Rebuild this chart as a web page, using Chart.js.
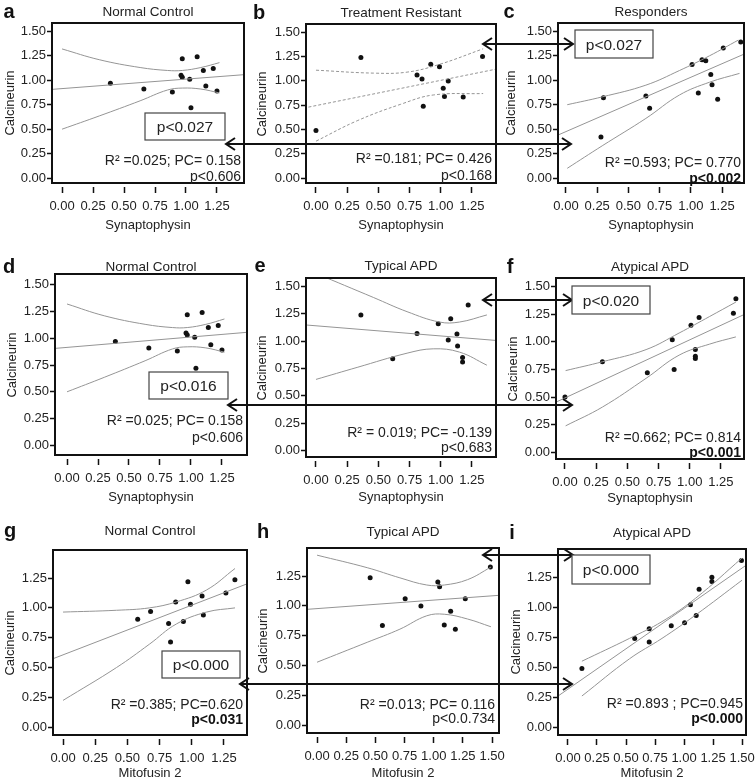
<!DOCTYPE html>
<html>
<head>
<meta charset="utf-8">
<script src="https://cdn.jsdelivr.net/npm/chart.js@4.4.0/dist/chart.umd.min.js"></script>
<style>
body { margin: 0; background: #fff; }
#fig { position: relative; width: 756px; height: 779px; overflow: hidden; font-family: "Liberation Sans", Arial, sans-serif; color: #222; }
#fig canvas { position: absolute; }
.t { position: absolute; white-space: nowrap; line-height: 1; }
.c { transform: translate(-50%, -50%); }
.r { transform: translate(-100%, -50%); }
.v { width: 100px; height: 16px; line-height: 16px; text-align: center; transform: rotate(-90deg); }
svg { position: absolute; left: 0; top: 0; }
</style>
</head>
<body>
<div id="fig"></div>
<script>
// ticks
const ticks125 = [0, 0.25, 0.5, 0.75, 1, 1.25];
const ticks150 = [0, 0.25, 0.5, 0.75, 1, 1.25, 1.5];

// a / d : Normal Control vs Synaptophysin
const ncSynPts = [[0.39,0.97],[0.66,0.91],[0.89,0.88],[0.96,1.05],[0.97,1.22],[0.97,1.03],[1.03,1.01],[1.04,0.72],[1.09,1.24],[1.14,1.10],[1.16,0.94],[1.22,1.12],[1.25,0.89]];
const ncSynFit = [[-0.1,0.905],[1.5,1.06]];
const ncSynUp = [[0,1.32],[0.3,1.21],[0.63,1.13],[0.85,1.10],[0.97,1.10],[1.12,1.13],[1.27,1.18]];
const ncSynLo = [[0,0.50],[0.3,0.635],[0.63,0.79],[0.85,0.90],[0.97,0.92],[1.12,0.91],[1.27,0.87]];

// b : Treatment Resistant
const trSynPts = [[0,0.49],[0.36,1.24],[0.81,1.06],[0.85,1.02],[0.86,0.74],[0.92,1.17],[0.99,1.145],[1.06,1.0],[1.02,0.925],[1.03,0.84],[1.18,0.835],[1.335,1.25]];
const trSynFit = [[-0.1,0.72],[1.46,1.125]];
const trSynUp = [[0,1.11],[0.46,1.08],[0.73,1.09],[0.99,1.17],[1.34,1.33]];
const trSynLo = [[0,0.38],[0.33,0.59],[0.68,0.76],[0.94,0.855],[1.34,0.87]];

// c : Responders
const rsSynPts = [[0.28,0.42],[0.30,0.82],[0.64,0.84],[0.67,0.715],[1.01,1.16],[1.06,0.87],[1.09,1.21],[1.12,1.20],[1.16,1.06],[1.17,0.955],[1.215,0.805],[1.26,1.33],[1.40,1.39]];
const rsSynFit = [[-0.1,0.42],[1.45,1.28]];
const rsSynUp = [[0.01,0.75],[0.29,0.83],[0.64,0.95],[0.91,1.10],[1.15,1.25],[1.38,1.41]];
const rsSynLo = [[0.01,0.10],[0.29,0.33],[0.64,0.61],[0.91,0.85],[1.15,0.98],[1.39,1.07]];

// e : Typical APD vs Synaptophysin
const tySynPts = [[0.36,1.24],[0.615,0.84],[0.81,1.07],[0.98,1.16],[1.08,1.205],[1.06,1.01],[1.13,1.065],[1.135,0.955],[1.175,0.85],[1.175,0.81],[1.22,1.33]];
const tySynFit = [[-0.1,1.15],[1.46,1.005]];
const tySynUp = [[0,1.62],[0.46,1.40],[0.73,1.27],[0.99,1.175],[1.15,1.175],[1.37,1.24]];
const tySynLo = [[0,0.65],[0.33,0.76],[0.73,0.89],[0.94,0.93],[1.15,0.90],[1.37,0.78]];

// f : Atypical APD vs Synaptophysin
const atSynPts = [[0,0.50],[0.30,0.82],[0.66,0.72],[0.86,1.02],[0.875,0.75],[1.01,1.15],[1.045,0.93],[1.045,0.87],[1.045,0.85],[1.075,1.22],[1.35,1.26],[1.37,1.39]];
const atSynFit = [[-0.1,0.44],[1.45,1.255]];
const atSynUp = [[0.005,0.74],[0.30,0.82],[0.65,0.93],[0.915,1.08],[1.16,1.23],[1.37,1.36]];
const atSynLo = [[0.005,0.24],[0.30,0.41],[0.65,0.67],[0.915,0.88],[1.16,0.98],[1.37,1.045]];

// g : Normal Control vs Mitofusin 2
const ncMitPts = [[0.58,0.905],[0.68,0.97],[0.82,0.87],[0.835,0.715],[0.875,1.05],[0.935,0.885],[0.97,1.22],[0.99,1.03],[1.08,1.10],[1.09,0.94],[1.265,1.125],[1.335,1.235]];
const ncMitFit = [[-0.1,0.565],[1.45,1.21]];
const ncMitUp = [[0,0.965],[0.415,0.98],[0.67,1.0],[0.88,1.05],[1.115,1.15],[1.336,1.33]];
const ncMitLo = [[0,0.225],[0.415,0.50],[0.67,0.695],[0.88,0.865],[1.115,0.965],[1.336,1.0]];

// h : Typical APD vs Mitofusin 2
const tyMitPts = [[0.455,1.235],[0.56,0.835],[0.755,1.06],[0.89,1.0],[1.035,1.20],[1.05,1.16],[1.09,0.84],[1.145,0.955],[1.185,0.805],[1.27,1.06],[1.485,1.325]];
const tyMitFit = [[-0.1,0.97],[1.58,1.09]];
const tyMitUp = [[0,1.425],[0.43,1.32],[0.71,1.235],[0.94,1.175],[1.09,1.175],[1.29,1.22],[1.49,1.325]];
const tyMitLo = [[0,0.528],[0.43,0.695],[0.71,0.805],[0.94,0.917],[1.09,0.93],[1.29,0.89],[1.49,0.825]];

// i : Atypical APD vs Mitofusin 2
const atMitPts = [[0.12,0.49],[0.575,0.74],[0.70,0.82],[0.70,0.71],[0.89,0.845],[1.005,0.87],[1.055,1.02],[1.105,0.93],[1.13,1.15],[1.24,1.215],[1.24,1.25],[1.495,1.39]];
const atMitFit = [[-0.1,0.25],[1.58,1.38]];
const atMitUp = [[0.12,0.55],[0.53,0.74],[0.81,0.88],[1.10,1.075],[1.50,1.41]];
const atMitLo = [[0.12,0.26],[0.53,0.57],[0.81,0.74],[1.10,0.935],[1.50,1.225]];

// layout of the 9 panels (box = plot frame in page pixels)
const panels = [
  {k:'a', box:[52,23,244,183],  xr:[-0.081,1.468], yr:[-0.05,1.585], xt:ticks125, yt:ticks150, pts:ncSynPts, fit:ncSynFit, up:ncSynUp, lo:ncSynLo, title:'Normal Control', xl:'Synaptophysin', s1:'R² =0.025; PC= 0.158', s2:'p<0.606', bold:false, st:[241,160,176], kp:[9,11], yl:10, xly:224},
  {k:'b', box:[306,24,496,183], xr:[-0.08,1.443],  yr:[-0.05,1.585], xt:ticks125, yt:ticks150, pts:trSynPts, fit:trSynFit, up:trSynUp, lo:trSynLo, title:'Treatment Resistant', xl:'Synaptophysin', s1:'R² =0.181; PC= 0.426', s2:'p<0.168', bold:false, st:[492,158,175], kp:[259,12], yl:262, xly:224, dash:true},
  {k:'c', box:[558,23,744,183], xr:[-0.064,1.426], yr:[-0.05,1.585], xt:ticks125, yt:ticks150, pts:rsSynPts, fit:rsSynFit, up:rsSynUp, lo:rsSynLo, title:'Responders', xl:'Synaptophysin', s1:'R² =0.593; PC= 0.770', s2:'p<0.002', bold:true, st:[741,162,178], kp:[509,11], yl:511, xly:224},
  {k:'d', box:[55,274,247,455], xr:[-0.097,1.452], yr:[-0.09,1.60], xt:ticks125, yt:ticks150, pts:ncSynPts, fit:ncSynFit, up:ncSynUp, lo:ncSynLo, title:'Normal Control', xl:'Synaptophysin', s1:'R² =0.025; PC= 0.158', s2:'p<0.606', bold:false, st:[243,420,437], kp:[9,266], yl:12, xly:496},
  {k:'e', box:[306,278,496,457], xr:[-0.08,1.443], yr:[-0.06,1.578], xt:ticks125, yt:ticks150, pts:tySynPts, fit:tySynFit, up:tySynUp, lo:tySynLo, title:'Typical APD', xl:'Synaptophysin', s1:'R² = 0.019; PC= -0.139', s2:'p<0.683', bold:false, st:[492,432,447], kp:[260,265], yl:262, xly:496},
  {k:'f', box:[556,278,744,459], xr:[-0.072,1.435], yr:[-0.06,1.578], xt:ticks125, yt:ticks150, pts:atSynPts, fit:atSynFit, up:atSynUp, lo:atSynLo, title:'Atypical APD', xl:'Synaptophysin', s1:'R² =0.662; PC= 0.814', s2:'p<0.001', bold:true, st:[741,437,452], kp:[510,266], yl:513, xly:497},
  {k:'g', box:[53,550,247,735], xr:[-0.078,1.429], yr:[-0.065,1.485], xt:ticks125, yt:ticks125, pts:ncMitPts, fit:ncMitFit, up:ncMitUp, lo:ncMitLo, title:'Normal Control', xl:'Mitofusin 2', s1:'R² =0.385; PC=0.620', s2:'p<0.031', bold:true, st:[243,704,719], kp:[10,530], yl:10, xly:772},
  {k:'h', box:[307,548,499,733], xr:[-0.086,1.559], yr:[-0.065,1.485], xt:ticks150, yt:ticks125, pts:tyMitPts, fit:tyMitFit, up:tyMitUp, lo:tyMitLo, title:'Typical APD', xl:'Mitofusin 2', s1:'R² =0.013; PC= 0.116', s2:'p<0.0.734', bold:false, st:[495,704,718], kp:[263,531], yl:263, xly:772},
  {k:'i', box:[558,549,746,735], xr:[-0.086,1.534], yr:[-0.065,1.485], xt:ticks150, yt:ticks125, pts:atMitPts, fit:atMitFit, up:atMitUp, lo:atMitLo, title:'Atypical APD', xl:'Mitofusin 2', s1:'R² =0.893 ; PC=0.945', s2:'p<0.000', bold:true, st:[743,703,718], kp:[512,532], yl:516, xly:772}
];

// p-value boxes and arrows between panels
const pBoxes = [
  {x:145, y:113, w:80, h:27, txt:'p<0.027'},
  {x:575, y:30,  w:78, h:28, txt:'p<0.027'},
  {x:149, y:372, w:79, h:27, txt:'p<0.016'},
  {x:572, y:286, w:78, h:28, txt:'p<0.020'},
  {x:162, y:651, w:78, h:27, txt:'p<0.000'},
  {x:572, y:555, w:78, h:29, txt:'p<0.000'}
];
const arrows = [
  [226, 571, 144], [483, 573, 44],
  [228, 572, 405], [483, 572, 300],
  [240, 572, 684], [483, 573, 555]
];

Chart.defaults.font.family = '"Liberation Sans", Arial, sans-serif';
Chart.defaults.color = '#222';

const fig = document.getElementById('fig');

const framePlugin = {
  id: 'frame',
  afterDraw(chart) {
    const {ctx, chartArea: a} = chart;
    ctx.save();
    ctx.strokeStyle = '#111';
    ctx.lineWidth = 2;
    ctx.strokeRect(a.left, a.top, a.right - a.left, a.bottom - a.top);
    ctx.restore();
  }
};

function addText(txt, x, y, cls, css) {
  const d = document.createElement('div');
  d.className = 't ' + cls;
  d.textContent = txt;
  d.style.cssText = 'left:' + x + 'px;top:' + y + 'px;' + (css || '');
  fig.appendChild(d);
}

function toXY(arr) { return arr.map(p => ({x: p[0], y: p[1]})); }

function drawPanel(p) {
  const w = p.box[2] - p.box[0], h = p.box[3] - p.box[1];
  const cv = document.createElement('canvas');
  cv.width = w + 52 + 16;
  cv.height = h + 10 + 36;
  cv.style.left = (p.box[0] - 52) + 'px';
  cv.style.top = (p.box[1] - 10) + 'px';
  fig.appendChild(cv);

  const curve = (arr, tension) => ({
    data: toXY(arr), showLine: true, pointRadius: 0, borderColor: '#959595',
    borderWidth: 1, borderDash: p.dash ? [3, 2] : [], tension: tension, clip: 0
  });

  new Chart(cv, {
    type: 'scatter',
    data: {
      datasets: [
        curve(p.fit, 0),
        curve(p.up, 0.4),
        curve(p.lo, 0.4),
        {data: toXY(p.pts), pointRadius: 2.5, backgroundColor: '#111', borderWidth: 0}
      ]
    },
    options: {
      responsive: false,
      animation: false,
      events: [],
      layout: {padding: {left: 0, top: 10, right: 16, bottom: 0}},
      plugins: {legend: {display: false}, tooltip: {enabled: false}},
      scales: {
        x: {
          type: 'linear', min: p.xr[0], max: p.xr[1],
          afterFit: s => { s.height = 36; },
          afterBuildTicks: s => { s.ticks = p.xt.map(v => ({value: v})); },
          ticks: {callback: v => Number(v).toFixed(2), font: {size: 13}, color: '#222', padding: 6, maxRotation: 0, autoSkip: false},
          grid: {drawOnChartArea: false, drawTicks: true, tickLength: 10, tickColor: '#111', tickWidth: 1.5, tickBorderDash: [0, 4, 6, 0]},
          border: {display: false}
        },
        y: {
          type: 'linear', min: p.yr[0], max: p.yr[1],
          afterFit: s => { s.width = 52; },
          afterBuildTicks: s => { s.ticks = p.yt.map(v => ({value: v})); },
          ticks: {callback: v => Number(v).toFixed(2), font: {size: 13}, color: '#222', padding: 1, autoSkip: false},
          grid: {drawOnChartArea: false, drawTicks: true, tickLength: 5, tickColor: '#111', tickWidth: 1.5},
          border: {display: false}
        }
      }
    },
    plugins: [framePlugin]
  });

  const cx = (p.box[0] + p.box[2]) / 2, cy = Math.round((p.box[1] + p.box[3]) / 2);
  addText(p.k, p.kp[0], p.kp[1], 'c', 'font-size:20px;font-weight:bold;color:#111;');
  addText(p.title, cx, p.kp[1] + 1, 'c', 'font-size:13.5px;');
  addText(p.xl, cx, p.xly, 'c', 'font-size:13px;');
  // rotated y title: 100x16 box centred on (yl, cy), integer offsets keep it crisp
  addText('Calcineurin', p.yl - 50, cy - 8, 'v', 'font-size:13px;');
  addText(p.s1, p.st[0], p.st[1], 'r', 'font-size:14px;');
  addText(p.s2, p.st[0], p.st[2], 'r', 'font-size:14px;' + (p.bold ? 'font-weight:bold;color:#111;' : ''));
}

panels.forEach(drawPanel);

// overlay: p boxes and double arrows
const NS = 'http://www.w3.org/2000/svg';
const svg = document.createElementNS(NS, 'svg');
svg.setAttribute('width', 756);
svg.setAttribute('height', 779);
fig.appendChild(svg);

function el(tag, attrs) {
  const e = document.createElementNS(NS, tag);
  for (const a in attrs) e.setAttribute(a, attrs[a]);
  svg.appendChild(e);
  return e;
}

arrows.forEach(([x1, x2, y]) => {
  el('line', {x1: x1, y1: y, x2: x2, y2: y, stroke: '#111', 'stroke-width': 2});
  el('polyline', {points: (x1 + 9) + ',' + (y - 6) + ' ' + x1 + ',' + y + ' ' + (x1 + 9) + ',' + (y + 6), fill: 'none', stroke: '#111', 'stroke-width': 2});
  el('polyline', {points: (x2 - 9) + ',' + (y - 6) + ' ' + x2 + ',' + y + ' ' + (x2 - 9) + ',' + (y + 6), fill: 'none', stroke: '#111', 'stroke-width': 2});
});

pBoxes.forEach(b => {
  el('rect', {x: b.x, y: b.y, width: b.w, height: b.h, fill: '#fff', stroke: '#444', 'stroke-width': 1.2});
  const t = el('text', {x: b.x + b.w / 2, y: b.y + b.h / 2 + 5.5, 'text-anchor': 'middle', 'font-size': 15.5, fill: '#222', 'font-family': '"Liberation Sans", Arial, sans-serif'});
  t.textContent = b.txt;
});
</script>
</body>
</html>
